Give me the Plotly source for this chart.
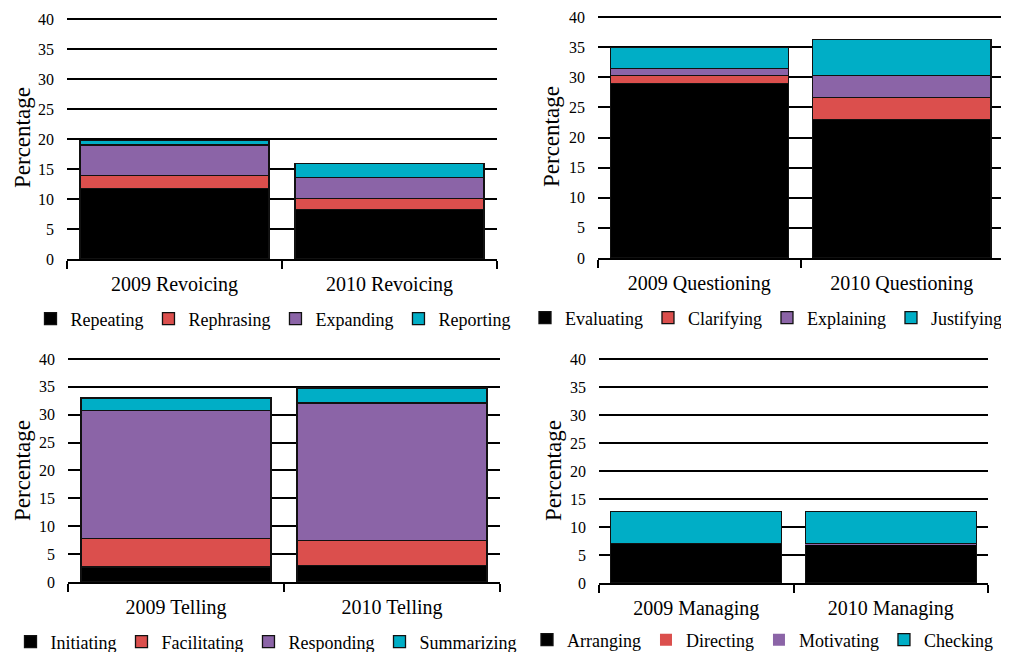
import plotly.graph_objects as go

# ---- data ----
revoicing_cats = ["2009 Revoicing", "2010 Revoicing"]
repeating = [11.8, 8.3]
rephrasing = [2.1, 1.8]
expanding = [5.1, 3.5]
reporting = [0.7, 2.3]

questioning_cats = ["2009 Questioning", "2010 Questioning"]
evaluating = [29.0, 23.0]
clarifying = [1.3, 3.6]
explaining = [1.1, 3.7]
justifying = [3.5, 6.0]

telling_cats = ["2009 Telling", "2010 Telling"]
initiating = [2.7, 3.0]
facilitating = [5.05, 4.45]
responding = [23.05, 24.65]
summarizing = [2.2, 2.7]

managing_cats = ["2009 Managing", "2010 Managing"]
arranging = [7.1, 6.9]
directing = [0.0, 0.0]
motivating = [0.0, 0.2]
checking = [5.65, 5.65]

y_ticks = [0, 5, 10, 15, 20, 25, 30, 35, 40]

COLORS = ["#000000", "#DB4F4D", "#8B64A7", "#00AEC6"]
FONT = "Liberation Serif"

panels = [
    (revoicing_cats, [("Repeating", repeating), ("Rephrasing", rephrasing),
                      ("Expanding", expanding), ("Reporting", reporting)], "x", "y", "legend", [1, 1, 1, 1]),
    (questioning_cats, [("Evaluating", evaluating), ("Clarifying", clarifying),
                        ("Explaining", explaining), ("Justifying", justifying)], "x2", "y2", "legend2", [1, 1, 1, 1]),
    (telling_cats, [("Initiating", initiating), ("Facilitating", facilitating),
                    ("Responding", responding), ("Summarizing", summarizing)], "x3", "y3", "legend3", [1, 1, 1, 1]),
    (managing_cats, [("Arranging", arranging), ("Directing", directing),
                     ("Motivating", motivating), ("Checking", checking)], "x4", "y4", "legend4", [1, 0, 0, 1]),
]

fig = go.Figure()
for cats, series, xa, ya, lg, borders in panels:
    for (name, vals), col, b in zip(series, COLORS, borders):
        fig.add_trace(go.Bar(
            x=cats, y=vals, name=name, xaxis=xa, yaxis=ya, legend=lg,
            marker=dict(color=col, line=dict(color="#111111", width=1.3 * b)),
        ))

# page body has an 8px margin; figure sized so the page fits the window
OFF = 8
W, H = 1009 - OFF, 652 - OFF
YTOP = 40.2


def fx(p):
    return (p - OFF) / W


def fy(p):
    return 1 - (p - OFF) / H


xdomains = [(67, 497), (598, 1003), (68, 500), (599, 988)]
ydomains = [(19, 259), (17, 258), (359, 582), (359, 583)]

layout = dict(
    width=W, height=H, margin=dict(l=0, r=0, t=0, b=0, autoexpand=False),
    paper_bgcolor="white", plot_bgcolor="white",
    barmode="stack", bargap=0.12,
    font=dict(family=FONT, color="black"),
)

for i, ((x0, x1), (y0, y1)) in enumerate(zip(xdomains, ydomains)):
    sfx = "" if i == 0 else str(i + 1)
    unit = (y1 - y0) / 40.0
    ytop_px = y1 - YTOP * unit
    layout["xaxis" + sfx] = dict(
        domain=[fx(x0), fx(x1)], anchor="y" + sfx, type="category", automargin=False,
        showline=True, linecolor="black", linewidth=2,
        ticks="outside", tickson="boundaries", ticklen=8, tickwidth=2, tickcolor="black",
        showgrid=False, zeroline=False, tickfont=dict(size=20, family=FONT, color="black"),
        ticklabelstandoff=6,
    )
    layout["yaxis" + sfx] = dict(
        domain=[fy(y1), fy(ytop_px)], anchor="x" + sfx, range=[0, YTOP], automargin=False,
        tickvals=y_ticks, showgrid=True, gridcolor="black", gridwidth=2,
        showline=False, zeroline=False, ticks="",
        tickfont=dict(size=16, family=FONT, color="black"), ticklabelstandoff=12,
    )

legend_pos = [(fx(273), "center", fy(319)), (fx(1007), "right", fy(318)),
              (fx(266), "center", fy(642)), (fx(998), "right", fy(640))]
for i, (lx, xa, ly) in enumerate(legend_pos):
    key = "legend" if i == 0 else "legend" + str(i + 1)
    layout[key] = dict(
        orientation="h", x=lx, xanchor=xa, y=ly, yanchor="middle",
        xref="paper", yref="paper", bgcolor="rgba(0,0,0,0)",
        font=dict(size=18, family=FONT, color="black"), traceorder="normal",
        itemclick=False, itemdoubleclick=False,
    )

fig.update_layout(**layout)

title_pos = [(22, 138), (551, 137), (22, 471), (553, 471)]
for tx, ty in title_pos:
    fig.add_annotation(
        text="Percentage", x=fx(tx), y=fy(ty), xref="paper", yref="paper",
        showarrow=False, textangle=-90, font=dict(size=23, family=FONT, color="black"),
        xanchor="center", yanchor="middle",
    )

fig.write_html("out.html")
